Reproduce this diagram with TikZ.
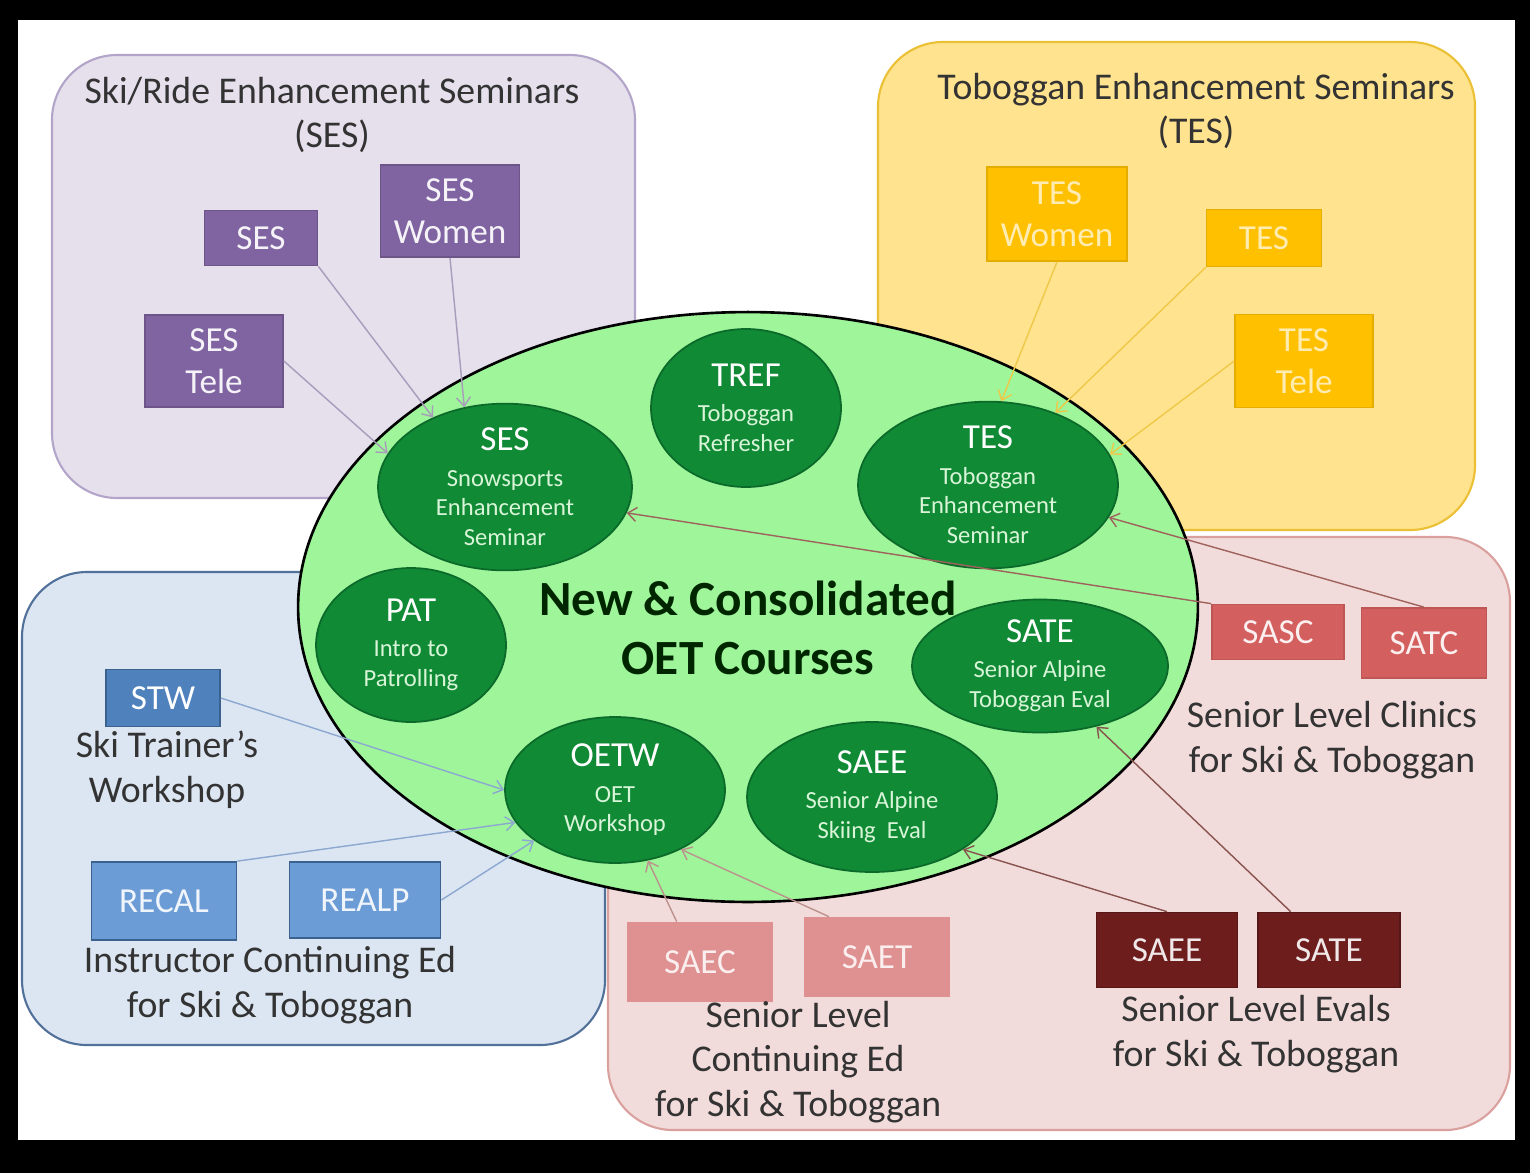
\documentclass[tikz,border=0pt]{standalone}
\usepackage{fontspec}
\setmainfont{Carlito}
\usetikzlibrary{arrows.meta,positioning,shapes}

\definecolor{sesfill}{HTML}{E5E0EC}
\definecolor{sesline}{HTML}{B3A5C9}
\definecolor{sesbox}{HTML}{8064A2}
\definecolor{sesarrow}{HTML}{A89BBB}
\definecolor{tesfill}{HTML}{FFE38F}
\definecolor{tesline}{HTML}{EBC034}
\definecolor{tesbox}{HTML}{FFC000}
\definecolor{tesarrow}{HTML}{F0C848}
\definecolor{icefill}{HTML}{DCE6F2}
\definecolor{iceline}{HTML}{52719A}
\definecolor{icebox}{HTML}{4F81BD}
\definecolor{icelight}{HTML}{6C9CD6}
\definecolor{icearrow}{HTML}{8CA8D0}
\definecolor{senfill}{HTML}{F2DCDB}
\definecolor{senline}{HTML}{D9A09E}
\definecolor{clinbox}{HTML}{D35F5F}
\definecolor{cedbox}{HTML}{DF9090}
\definecolor{evalbox}{HTML}{6E1D1D}
\definecolor{senarrow}{HTML}{A0625C}
\definecolor{oetfill}{HTML}{9EF59A}
\definecolor{course}{HTML}{118A36}
\definecolor{courseline}{HTML}{0B6A29}
\definecolor{coursetext}{HTML}{D8F5D8}

\newcommand{\crstitle}[1]{{\fontsize{20}{24}\selectfont\color{white}#1}}

\begin{document}
\begin{tikzpicture}[x=0.02cm,y=-0.02cm]
\tikzstyle{grp} = [rounded corners=1.3cm, line width=1.2pt]
\tikzstyle{box} = [draw, rectangle, inner sep=0pt, align=center, line width=1pt, font=\fontsize{20}{24}\selectfont]
\tikzstyle{crs} = [draw=courseline, fill=course, ellipse, inner sep=0pt, align=center, line width=1pt, text=coursetext, font=\fontsize{14}{17}\selectfont]
\tikzstyle{lbl} = [align=center, text=black!80, font=\fontsize{21.5}{25.5}\selectfont]
\tikzstyle{feed} = [-{Straight Barb[length=5pt,width=8pt]}, line width=0.8pt]

% frame
\fill[black] (0,0) rectangle (1530,1173);
\fill[white] (18,20) rectangle (1515,1140);

% groups
\draw[grp, draw=sesline, fill=sesfill] (52,55) rectangle (635,498);
\draw[grp, draw=tesline, fill=tesfill] (878,42) rectangle (1475,530);
\draw[grp, draw=senline, fill=senfill] (608,537) rectangle (1510,1130);
\draw[grp, draw=iceline, fill=icefill] (22,572) rectangle (605,1045);

\node[lbl] (sestitle) at (332,115) {Ski/Ride Enhancement Seminars\\(SES)};
\node[lbl] (testitle) at (1196,111) {Toboggan Enhancement Seminars\\(TES)};

% new courses
\node[ellipse, draw, fill=oetfill, line width=1.5pt, minimum width=18cm, minimum height=11.8cm] (oet) at (748,607) {};
\node[align=center, text=black!85!green, font=\bfseries\fontsize{28}{34}\selectfont] (oettitle) at (748,628) {New \& Consolidated\\OET Courses};

\node[crs, minimum width=5.08cm, minimum height=3.2cm] (sesC) at (505,487) {\crstitle{SES}\\[3pt]Snowsports\\Enhancement\\Seminar};
\node[crs, minimum width=3.8cm, minimum height=3.16cm] (trefC) at (746,408) {\crstitle{TREF}\\[3pt]Toboggan\\Refresher};
\node[crs, minimum width=5.2cm, minimum height=3.24cm] (tesC) at (988,485) {\crstitle{TES}\\[3pt]Toboggan\\Enhancement\\Seminar};
\node[crs, minimum width=3.8cm, minimum height=3.08cm] (patC) at (411,645) {\crstitle{PAT}\\[3pt]Intro to\\Patrolling};
\node[crs, minimum width=4.4cm, minimum height=2.92cm] (oetwC) at (615,790) {\crstitle{OETW}\\[3pt]OET\\Workshop};
\node[crs, minimum width=5cm, minimum height=3cm] (saeeC) at (872,797) {\crstitle{SAEE}\\[3pt]Senior Alpine\\Skiing\ \ Eval};
\node[crs, minimum width=5.12cm, minimum height=2.66cm] (sateC) at (1040,666) {\crstitle{SATE}\\[3pt]Senior Alpine\\Toboggan Eval};

% ski/ride seminars
\node[box, fill=sesbox, draw=sesbox!85!black, text=white!92!sesbox, minimum width=2.26cm, minimum height=1.1cm] (ses1) at (261,238) {SES};
\node[box, fill=sesbox, draw=sesbox!85!black, text=white!92!sesbox, minimum width=2.78cm, minimum height=1.84cm] (sesW) at (450,211) {SES\\Women};
\node[box, fill=sesbox, draw=sesbox!85!black, text=white!92!sesbox, minimum width=2.76cm, minimum height=1.84cm] (sesT) at (214,361) {SES\\Tele};

% toboggan seminars
\node[box, fill=tesbox, draw=tesbox!90!black, text=white!70!tesbox, minimum width=2.8cm, minimum height=1.88cm] (tesW) at (1057,214) {TES\\Women};
\node[box, fill=tesbox, draw=tesbox!90!black, text=white!70!tesbox, minimum width=2.3cm, minimum height=1.14cm] (tes1) at (1264,238) {TES};
\node[box, fill=tesbox, draw=tesbox!90!black, text=white!70!tesbox, minimum width=2.76cm, minimum height=1.86cm] (tesT) at (1304,361) {TES\\Tele};

% instructor continuing ed
\node[box, fill=icebox, draw=icebox!75!black, text=white, minimum width=2.28cm, minimum height=1.14cm] (stw) at (163,698) {STW};
\node[box, fill=icelight, draw=icebox!75!black, text=white!90!icelight, minimum width=2.9cm, minimum height=1.56cm] (recal) at (164,901) {RECAL};
\node[box, fill=icelight, draw=icebox!75!black, text=white!90!icelight, minimum width=3.02cm, minimum height=1.52cm] (realp) at (365,900) {REALP};
\node[lbl] (stwlbl) at (167,770) {Ski Trainer’s\\Workshop};
\node[lbl] (icelbl) at (270,985) {Instructor Continuing Ed\\for Ski \& Toboggan};

% senior level
\node[box, fill=clinbox, draw=clinbox!90!black, text=white!90!clinbox, minimum width=2.64cm, minimum height=1.1cm] (sasc) at (1278,632) {SASC};
\node[box, fill=clinbox, draw=clinbox!90!black, text=white!90!clinbox, minimum width=2.5cm, minimum height=1.4cm] (satc) at (1424,643) {SATC};
\node[box, fill=cedbox, draw=cedbox, text=white!85!cedbox, minimum width=2.9cm, minimum height=1.58cm] (saec) at (700,962) {SAEC};
\node[box, fill=cedbox, draw=cedbox, text=white!85!cedbox, minimum width=2.9cm, minimum height=1.58cm] (saet) at (877,957) {SAET};
\node[box, fill=evalbox, draw=evalbox!80!black, text=white!90!evalbox, minimum width=2.82cm, minimum height=1.5cm] (saeeE) at (1167,950) {SAEE};
\node[box, fill=evalbox, draw=evalbox!80!black, text=white!90!evalbox, minimum width=2.84cm, minimum height=1.5cm] (sateE) at (1329,950) {SATE};
\node[lbl] (clinlbl) at (1332,740) {Senior Level Clinics\\for Ski \& Toboggan};
\node[lbl] (cedlbl) at (798,1062) {Senior Level\\Continuing Ed\\for Ski \& Toboggan};
\node[lbl] (evallbl) at (1256,1034) {Senior Level Evals\\for Ski \& Toboggan};

% feeds
\draw[feed, draw=sesarrow] (ses1.south east) -- (sesC.136);
\draw[feed, draw=sesarrow] (sesW.south) -- (sesC.117);
\draw[feed, draw=sesarrow] (sesT.east) -- (sesC.164);
\draw[feed, draw=tesarrow] (tesW.south) -- (tesC.81);
\draw[feed, draw=tesarrow] (tes1.south west) -- (tesC.47);
\draw[feed, draw=tesarrow] (tesT.west) -- (tesC.14);
\draw[feed, draw=icearrow] (stw.east) -- (oetwC.180);
\draw[feed, draw=icearrow] (recal.north east) -- (oetwC.198);
\draw[feed, draw=icearrow] (realp.east) -- (oetwC.212);
\draw[feed, draw=senarrow] (sasc.north west) -- (sesC.-12);
\draw[feed, draw=senarrow] (satc.north) -- (tesC.-15);
\draw[feed, draw=senarrow!70!white] (saec.120) -- (oetwC.-65);
\draw[feed, draw=senarrow!70!white] (saet.140) -- (oetwC.-42);
\draw[feed, draw=senarrow!85!black] (saeeE.north) -- (saeeC.-30);
\draw[feed, draw=senarrow!85!black] (sateE.135) -- (sateC.-47);
\end{tikzpicture}
\end{document}
